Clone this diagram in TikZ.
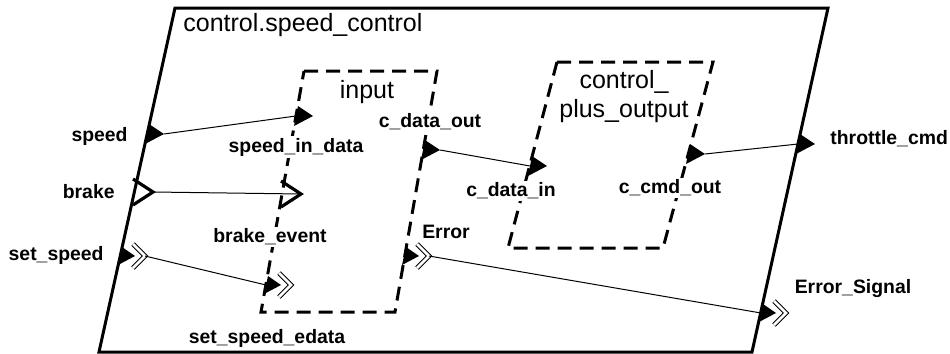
\documentclass[tikz,border=0pt]{standalone}
\usepackage{fontspec}
\setmainfont{Liberation Sans}
\usetikzlibrary{positioning, calc}

\begin{document}
\begin{tikzpicture}[
    x=0.5pt, y=-0.5pt,
    title/.style={font=\fontsize{12.5}{14.5}\selectfont, inner sep=0pt, align=center},
    portlabel/.style={font=\fontsize{9.7}{11}\selectfont\bfseries, fill=white, inner sep=1pt},
    outer/.style={draw, line width=1.5pt, line join=miter},
    subsys/.style={draw, line width=1.5pt, dash pattern=on 7pt off 4pt},
    link/.style={line width=0.5pt},
    pics/dataport/.style={code={
        \fill (2,-10) -- (17,0) -- (-2,10) -- cycle;
        \coordinate (-in) at (0,0);
        \coordinate (-out) at (17,0);
    }},
    pics/eventport/.style={code={
        \draw[line width=1.6pt, line join=miter] (-1,-13) -- (19,0) -- (-1,13);
        \coordinate (-in) at (0,0);
        \coordinate (-out) at (19,0);
    }},
    pics/edataport/.style={code={
        \fill (2,-9) -- (15,0) -- (-2,9) -- cycle;
        \draw[double, double distance=1.4pt, line width=0.5pt, line join=miter] (13,-12) -- (25,0) -- (13,12);
        \coordinate (-in) at (0,0);
        \coordinate (-out) at (25,0);
    }}
]
    \useasboundingbox (0,0) rectangle (950,354);

    % outer system
    \coordinate (sc-tl) at (175,8);
    \coordinate (sc-tr) at (828,8);
    \coordinate (sc-br) at (752,352);
    \coordinate (sc-bl) at (99,352);
    \draw[outer] (sc-tl) -- (sc-tr) -- (sc-br) -- (sc-bl) -- cycle;
    \node[title, anchor=west] (sctitle) at (183,25) {control.speed\_control};

    % subsystems
    \coordinate (in-tl) at (304,71);
    \coordinate (in-tr) at (437,71);
    \coordinate (in-br) at (395,312);
    \coordinate (in-bl) at (261,312);
    \draw[subsys] (in-tl) -- (in-tr) -- (in-br) -- (in-bl) -- cycle;
    \node[title] (intitle) at (367,92) {input};

    \coordinate (cpo-tl) at (557,62);
    \coordinate (cpo-tr) at (713,62);
    \coordinate (cpo-br) at (663,248);
    \coordinate (cpo-bl) at (508,248);
    \draw[subsys] (cpo-tl) -- (cpo-tr) -- (cpo-br) -- (cpo-bl) -- cycle;
    \node[title] (cpotitle) at (624,97) {control\_\\plus\_output};

    % port labels
    \node[portlabel, anchor=east] (speedlbl) at (130,136) {speed};
    \node[portlabel, anchor=east] (brakelbl) at (117,192) {brake};
    \node[portlabel, anchor=east] (setspeedlbl) at (106,255) {set\_speed};
    \node[portlabel] (sindatalbl) at (296,147) {speed\_in\_data};
    \node[portlabel] (brkeventlbl) at (270,237) {brake\_event};
    \node[portlabel] (sspedatalbl) at (267,338) {set\_speed\_edata};
    \node[portlabel] (cdataoutlbl) at (430,122) {c\_data\_out};
    \node[portlabel] (errorlbl) at (446,232) {Error};
    \node[portlabel] (cdatainlbl) at (511,191) {c\_data\_in};
    \node[portlabel] (ccmdoutlbl) at (670,188) {c\_cmd\_out};
    \node[portlabel, anchor=west] (throttlelbl) at (828,139) {throttle\_cmd};
    \node[portlabel] (errsignallbl) at (853,289) {Error\_Signal};

    % ports
    \pic (speed) at (147,134) {dataport};
    \pic (brake) at (134,192) {eventport};
    \pic (setspeed) at (120,256) {edataport};
    \pic (sindata) at (296,116) {dataport};
    \pic (brkevent) at (282,194) {eventport};
    \pic (sspedata) at (266,285) {edataport};
    \pic (cdataout) at (423,150) {dataport};
    \pic (error) at (404,256) {edataport};
    \pic (cdatain) at (530,166) {dataport};
    \pic (ccmdout) at (688,154) {dataport};
    \pic (throttle) at (798,144) {dataport};
    \pic (errsignal) at (761,313) {edataport};

    % connections
    \draw[link] (speed-out) -- (sindata-in);
    \draw[link] (brake-out) -- (brkevent-out);
    \draw[link] (setspeed-out) -- (sspedata-in);
    \draw[link] (cdataout-out) -- (cdatain-in);
    \draw[link] (ccmdout-out) -- (throttle-in);
    \draw[link] (error-out) -- (errsignal-in);
\end{tikzpicture}
\end{document}
